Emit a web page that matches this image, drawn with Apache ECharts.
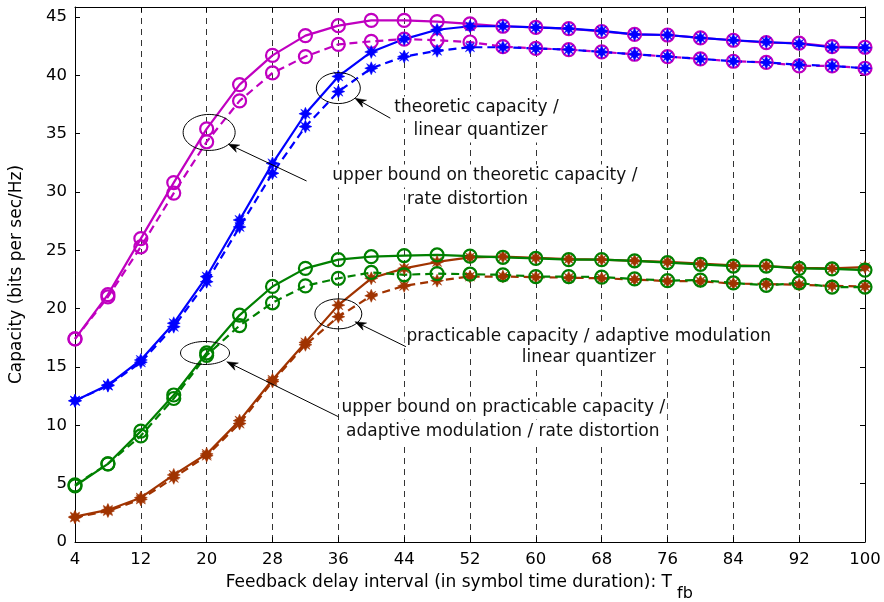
<!DOCTYPE html>
<html>
<head>
<meta charset="utf-8">
<script src="https://cdn.jsdelivr.net/npm/echarts@6/dist/echarts.min.js"></script>
<style>
html,body{margin:0;padding:0;background:#fff;}
#c{width:884px;height:602px;}
</style>
</head>
<body>
<div id="c"></div>
<script>
// ---- data ----
const xs = [4,8,12,16,20,24,28,32,36,40,44,48,52,56,60,64,68,72,76,80,84,88,92,96,100];
const xTicks = [4,12,20,28,36,44,52,60,68,76,84,92,100];
const yTicks = [0,5,10,15,20,25,30,35,40,45];

const magentaSolid = [17.4,21.2,26.0,30.8,35.4,39.2,41.7,43.4,44.25,44.7,44.7,44.6,44.4,44.2,44.1,44.0,43.75,43.5,43.45,43.2,43.0,42.8,42.75,42.45,42.4];
const magentaDash  = [17.4,21.0,25.3,29.9,34.3,37.8,40.2,41.6,42.65,42.9,43.1,43.0,42.85,42.45,42.3,42.2,42.0,41.8,41.6,41.4,41.2,41.1,40.8,40.8,40.6];
const blueSolid    = [12.1,13.45,15.6,18.75,22.75,27.6,32.45,36.7,39.9,42.0,43.1,43.9,44.2,44.2,44.1,44.0,43.8,43.5,43.45,43.2,43.0,42.85,42.7,42.4,42.35];
const blueDash     = [12.1,13.4,15.4,18.45,22.3,27.0,31.6,35.6,38.6,40.6,41.6,42.1,42.4,42.4,42.3,42.2,42.0,41.8,41.6,41.4,41.2,41.1,40.9,40.8,40.6];
const greenSolid   = [4.8,6.7,9.5,12.6,16.2,19.45,21.9,23.45,24.2,24.45,24.55,24.6,24.5,24.4,24.3,24.2,24.2,24.1,23.95,23.8,23.65,23.65,23.45,23.4,23.3];
const greenDash    = [4.9,6.7,9.1,12.3,16.0,18.55,20.5,21.95,22.6,23.1,22.9,23.0,22.95,22.9,22.75,22.75,22.7,22.55,22.4,22.45,22.2,22.0,22.2,21.85,21.85];
const brownSolid   = [2.17,2.75,3.8,5.75,7.55,10.4,13.9,17.1,20.3,22.6,23.45,24.0,24.4,24.45,24.35,24.25,24.2,24.1,24.0,23.85,23.7,23.65,23.5,23.45,23.55];
const brownDash    = [2.1,2.65,3.65,5.5,7.4,10.15,13.75,16.9,19.3,21.1,21.95,22.4,22.75,22.75,22.7,22.65,22.6,22.5,22.35,22.35,22.15,22.1,22.05,21.95,21.9];

const xTitle = 'Feedback delay interval (in symbol time duration): T';
const xTitleSub = 'fb';
const yTitle = 'Capacity (bits per sec/Hz)';

// annotations (data coordinates)
const ellipses = [
  {c:[20.3,35.1], rx:26, ry:18},
  {c:[36.0,38.9], rx:22, ry:15.5},
  {c:[19.8,16.2], rx:24.5, ry:11.5},
  {c:[36.0,19.55], rx:23.5, ry:15}
];
const arrows = [
  {from:[32.14,30.94], to:[22.6,34.11]},
  {from:[42.32,36.32], to:[38.02,38.03]},
  {from:[36.0,10.74], to:[22.44,15.45]},
  {from:[44.21,16.74], to:[38.02,18.88]}
];
const notes = [
  {t:'upper bound on theoretic capacity /', p:[53.81,31.37]},
  {t:'rate distortion', p:[51.70,29.31]},
  {t:'theoretic capacity /', p:[52.79,37.2]},
  {t:'linear quantizer', p:[53.27,35.23]},
  {t:'upper bound on practicable capacity /', p:[56.05,11.49]},
  {t:'adaptive modulation / rate distortion', p:[55.99,9.43]},
  {t:'practicable capacity / adaptive modulation', p:[66.43,17.57]},
  {t:'linear quantizer', p:[66.43,15.77]}
];

// ---- chart ----
const FONT = 'DejaVu Sans';
const STAR = 'path://M0,-10L2.6,-4.2L7.1,-7.1L4.2,-2.6L10,0L4.2,2.6L7.1,7.1L2.6,4.2L0,10L-2.6,4.2L-7.1,7.1L-4.2,2.6L-10,0L-4.2,-2.6L-7.1,-7.1L-2.6,-4.2Z';
const COL = {m:'#c000c0', b:'#0000ff', g:'#008000', r:'#a03300'};

function pairs(ys){ return xs.map((x,i)=>[x,ys[i]]); }
function mk(name, ys, color, dashed, marker){
  const circ = marker === 'o';
  return {
    name, type:'line', data:pairs(ys), xAxisIndex:0, yAxisIndex:0,
    symbol: circ ? 'circle' : STAR,
    symbolSize: circ ? 13 : 13,
    showSymbol:true,
    lineStyle:{color, width:2.2, type: dashed ? [8,5] : 'solid'},
    itemStyle: circ ? {color:'rgba(0,0,0,0)', borderColor:color, borderWidth:2.2}
                    : {color:color, borderColor:color, borderWidth:0.5},
    emphasis:{disabled:true},
    animation:false
  };
}

const chart = echarts.init(document.getElementById('c'), null, {renderer:'canvas'});
const yMax = 45.85;
const axisCommon = {
  axisLine:{show:true, onZero:false, lineStyle:{color:'#000', width:1}},
  axisTick:{show:true, inside:true, length:5, lineStyle:{color:'#000', width:1}}
};
chart.setOption({
  backgroundColor:'#fff',
  animation:false,
  grid:{left:70, right:19, top:7, bottom:60, containLabel:false},
  xAxis:[
    Object.assign({type:'value', min:4, max:100, interval:8, position:'bottom',
      axisLabel:{color:'#000', fontSize:16.5, fontFamily:FONT, margin:9,
        formatter:v=> xTicks.includes(v) ? String(v) : ''},
      splitLine:{show:true, lineStyle:{color:'#333', width:1, type:[6,5]}}}, axisCommon),
    Object.assign({type:'value', min:4, max:100, interval:8, position:'top',
      axisLabel:{show:false}, splitLine:{show:false}}, axisCommon)
  ],
  yAxis:[
    Object.assign({type:'value', min:0, max:yMax, interval:5, position:'left',
      name:yTitle, nameLocation:'middle', nameGap:50, nameRotate:90,
      nameTextStyle:{color:'#000', fontSize:17, fontFamily:FONT},
      axisLabel:{color:'#000', fontSize:16.5, fontFamily:FONT, margin:8,
        formatter:v=> yTicks.includes(v) ? String(v) : ''},
      splitLine:{show:false}}, axisCommon),
    Object.assign({type:'value', min:0, max:yMax, interval:5, position:'right',
      axisLabel:{show:false}, splitLine:{show:false}}, axisCommon)
  ],
  series:[
    mk('m-dash', magentaDash, COL.m, true, 'o'),
    mk('m-solid', magentaSolid, COL.m, false, 'o'),
    mk('b-dash', blueDash, COL.b, true, '*'),
    mk('b-solid', blueSolid, COL.b, false, '*'),
    mk('r-dash', brownDash, COL.r, true, '*'),
    mk('r-solid', brownSolid, COL.r, false, '*'),
    mk('g-dash', greenDash, COL.g, true, 'o'),
    mk('g-solid', greenSolid, COL.g, false, 'o')
  ]
});

// annotations via the grid's coordinate conversion
const px = p => chart.convertToPixel({gridIndex:0}, p);
const g = [];
notes.forEach(n=>{
  const q = px(n.p);
  g.push({type:'text', x:q[0], y:q[1], z:1, silent:true,
    style:{text:n.t, fill:'#111', font:'17px "DejaVu Sans"', align:'center', verticalAlign:'middle',
      backgroundColor:'#fff', padding:[3,2]}});
});
ellipses.forEach(e=>{
  const q = px(e.c);
  g.push({type:'ellipse', z:10, silent:true, shape:{cx:q[0], cy:q[1], rx:e.rx, ry:e.ry},
    style:{fill:null, stroke:'#000', lineWidth:1}});
});
arrows.forEach(a=>{
  const f = px(a.from), t = px(a.to);
  const dx = t[0]-f[0], dy = t[1]-f[1], L = Math.hypot(dx,dy);
  const ux = dx/L, uy = dy/L, nx = -uy, ny = ux;
  const hl = 11, hw = 4;
  const bx = t[0]-ux*hl, by = t[1]-uy*hl;
  const mx = t[0]-ux*hl*0.7, my = t[1]-uy*hl*0.7;
  g.push({type:'line', z:10, silent:true, shape:{x1:f[0], y1:f[1], x2:mx, y2:my},
    style:{stroke:'#000', lineWidth:1}});
  g.push({type:'polygon', z:10, silent:true,
    shape:{points:[[t[0],t[1]],[bx+nx*hw,by+ny*hw],[mx,my],[bx-nx*hw,by-ny*hw]]},
    style:{fill:'#000', stroke:'#000', lineWidth:0.5}});
});
// x-axis title with subscript
g.push({type:'text', x:672, y:583, z:1, silent:true,
  style:{text:xTitle, fill:'#000', font:'17px "DejaVu Sans"', align:'right', verticalAlign:'middle'}});
g.push({type:'text', x:677, y:594, z:1, silent:true,
  style:{text:xTitleSub, fill:'#000', font:'16px "DejaVu Sans"', align:'left', verticalAlign:'middle'}});
chart.setOption({graphic:g});
</script>
</body>
</html>
